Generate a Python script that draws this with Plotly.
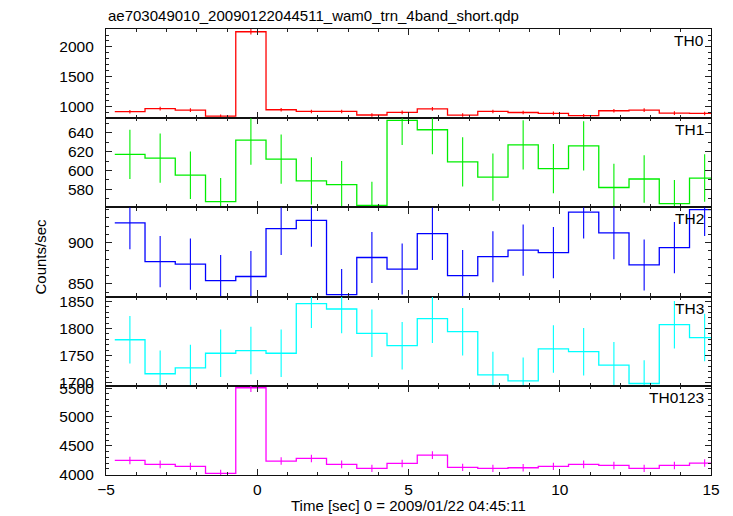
import plotly.graph_objects as go
from plotly.subplots import make_subplots

title_text = "ae703049010_20090122044511_wam0_trn_4band_short.qdp"
x_title = "Time [sec] 0 = 2009/01/22 04:45:11"
y_title = "Counts/sec"

# bin centres [sec], bin width 1 s
time_centers = [-4.21, -3.21, -2.21, -1.21, -0.21, 0.79, 1.79, 2.79, 3.79, 4.79,
                5.79, 6.79, 7.79, 8.79, 9.79, 10.79, 11.79, 12.79, 13.79, 14.79]
bin_width = 1.0

th0 = [913, 964, 941, 838, 2255, 946, 917, 917, 858, 902,
       962, 857, 917, 900, 885, 846, 929, 940, 889, 884]
th0_err = [30, 31, 31, 29, 48, 31, 30, 30, 29, 30, 31, 29, 30, 30, 30, 29, 30, 31, 30, 30]

th1 = [617, 613, 595, 567, 632, 612, 589, 585, 563, 653,
       643, 609, 593, 627, 602, 626, 582, 591, 565, 592]
th1_err = [26, 26, 25, 25, 26, 26, 25, 25, 25, 26, 26, 26, 25, 26, 26, 26, 25, 25, 25, 25]

th2 = [924, 877, 874, 854, 859, 917, 927, 837, 882, 868,
       911, 860, 883, 891, 888, 937, 912, 873, 894, 940]
th2_err = [32, 31, 31, 31, 31, 32, 32, 31, 31, 31, 32, 31, 31, 31, 31, 32, 32, 31, 31, 32]

th3 = [1779, 1716, 1727, 1754, 1759, 1754, 1846, 1836, 1791, 1768,
       1818, 1794, 1714, 1703, 1762, 1757, 1732, 1698, 1807, 1783]
th3_err = [44, 43, 43, 44, 44, 44, 45, 45, 44, 44, 45, 44, 43, 43, 44, 44, 43, 43, 44, 44]

th0123 = [4248, 4179, 4144, 4023, 5506, 4236, 4282, 4179, 4110, 4196,
          4340, 4127, 4110, 4121, 4144, 4179, 4161, 4110, 4161, 4202]
th0123_err = [65, 65, 64, 63, 74, 65, 65, 65, 64, 65, 66, 64, 64, 64, 64, 65, 65, 64, 65, 65]

panel_names = ["TH0", "TH1", "TH2", "TH3", "TH0123"]
panel_values = [th0, th1, th2, th3, th0123]
panel_errors = [th0_err, th1_err, th2_err, th3_err, th0123_err]
panel_colors = ["#ff0000", "#00ee00", "#0000ff", "#00ffff", "#ff00ff"]
y_ranges = [[804, 2301], [561, 655.2], [834.6, 942.8], [1693.7, 1859], [3995, 5540]]
y_dticks = [500, 20, 50, 50, 500]
y_minor = [100, 10, 10, 10, 100]
x_range = [-5, 15]

FONT = "Liberation Sans, Arial, Helvetica, sans-serif"

fig = make_subplots(rows=5, cols=1, shared_xaxes=True, vertical_spacing=0)

for i, (name, vals, errs, col) in enumerate(zip(panel_names, panel_values, panel_errors, panel_colors)):
    r = i + 1
    edges = [c - bin_width / 2 for c in time_centers] + [time_centers[-1] + bin_width / 2]
    step_y = vals + [vals[-1]]
    fig.add_trace(go.Scatter(x=edges, y=step_y, mode="lines", line=dict(color=col, width=1.3, shape="hv"),
                             hoverinfo="skip", showlegend=False), row=r, col=1)
    fig.add_trace(go.Scatter(x=time_centers, y=vals, mode="markers",
                             marker=dict(size=1, color="rgba(0,0,0,0)"),
                             error_y=dict(type="data", array=errs, visible=True, color=col, thickness=1.1, width=0),
                             showlegend=False), row=r, col=1)
    fig.update_yaxes(row=r, col=1, range=y_ranges[i], dtick=y_dticks[i], ticks="inside", ticklen=6,
                     tickcolor="#222", tickwidth=1, showline=True, linecolor="#111", linewidth=1.3,
                     mirror="ticks", showgrid=False, zeroline=False, ticklabelstandoff=8,
                     automargin=False,
                     tickfont=dict(family=FONT, size=15.5, color="black"),
                     minor=dict(ticks="inside", ticklen=3, dtick=y_minor[i], tickcolor="#222"))
    fig.update_xaxes(row=r, col=1, range=x_range, dtick=5, ticks="inside", ticklen=6,
                     tickcolor="#222", tickwidth=1, showline=True, linecolor="#111", linewidth=1.3,
                     mirror="ticks", showgrid=False, zeroline=False, automargin=False,
                     showticklabels=(r == 5),
                     tickfont=dict(family=FONT, size=15.5, color="black"),
                     minor=dict(ticks="inside", ticklen=3, dtick=1, tickcolor="#222"))
    fig.add_annotation(text=name, xref="x domain" if r == 1 else f"x{r} domain",
                       yref="y domain" if r == 1 else f"y{r} domain",
                       x=1, y=1, xanchor="right", yanchor="top", xshift=-5, yshift=-1,
                       showarrow=False, font=dict(family=FONT, size=15.5, color="black"))

fig.add_annotation(text=x_title, xref="paper", yref="paper", x=0.5, y=0, xanchor="center", yanchor="middle",
                   yshift=-30, showarrow=False, font=dict(family=FONT, size=15, color="black"))
fig.add_annotation(text=y_title, xref="paper", yref="paper", x=-0.109, y=0.49, textangle=-90,
                   xanchor="center", yanchor="middle", showarrow=False,
                   font=dict(family=FONT, size=15, color="black"))
fig.add_annotation(text=title_text, xref="paper", yref="paper", x=0, y=1, xanchor="left", yanchor="bottom",
                   yshift=3, showarrow=False, font=dict(family=FONT, size=15, color="black"))

# the page body adds an 8 px offset, so the figure is sized to fill the remaining window
fig.update_layout(width=725, height=508, margin=dict(l=98, r=22, t=21, b=41),
                  plot_bgcolor="white", paper_bgcolor="white", showlegend=False)

fig.write_html("out.html")
